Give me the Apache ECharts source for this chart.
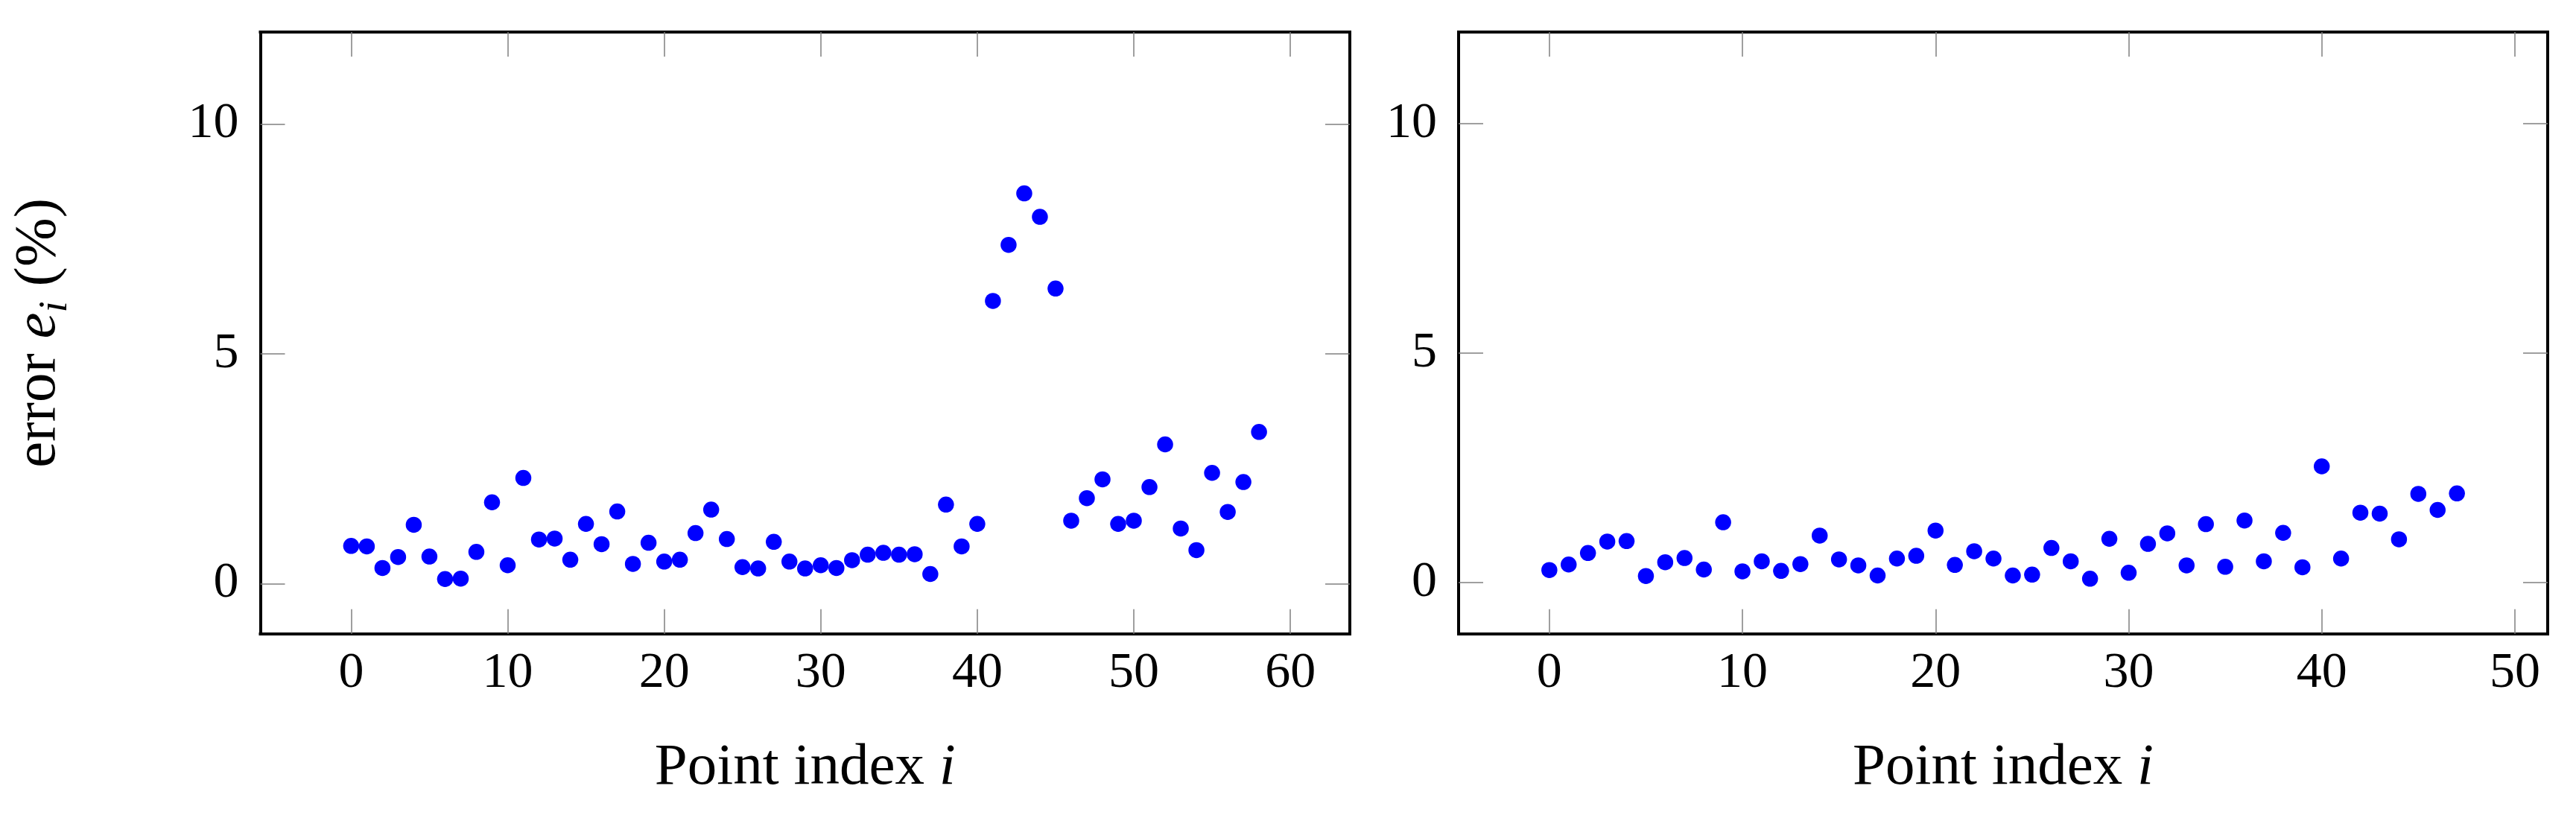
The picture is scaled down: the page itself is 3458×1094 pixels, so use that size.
<!DOCTYPE html>
<html>
<head>
<meta charset="utf-8">
<script src="https://cdn.jsdelivr.net/npm/echarts@6/dist/echarts.min.js"></script>
<style>
html,body{margin:0;padding:0;background:#fff;}
#chart{width:3458px;height:1094px;}
</style>
</head>
<body>
<div id="chart"></div>
<script>
// ---- data ----
const leftErrors = [0.82,0.81,0.34,0.58,1.28,0.59,0.10,0.11,0.69,1.77,
  0.40,2.30,0.96,0.98,0.52,1.30,0.86,1.57,0.43,0.89,
  0.48,0.52,1.10,1.61,0.97,0.36,0.33,0.91,0.48,0.33,
  0.40,0.34,0.51,0.63,0.67,0.63,0.64,0.21,1.72,0.81,
  1.30,6.15,7.37,8.49,7.98,6.42,1.37,1.86,2.27,1.30,
  1.37,2.10,3.03,1.20,0.73,2.41,1.56,2.21,3.30];
const rightErrors = [0.27,0.39,0.64,0.89,0.90,0.14,0.44,0.53,0.28,1.31,
  0.24,0.46,0.25,0.40,1.02,0.50,0.37,0.15,0.52,0.58,
  1.13,0.38,0.68,0.52,0.15,0.17,0.75,0.46,0.08,0.95,
  0.21,0.84,1.07,0.37,1.27,0.34,1.35,0.46,1.08,0.33,
  2.53,0.52,1.52,1.50,0.94,1.93,1.58,1.94];
const xTicksLeft = [0,10,20,30,40,50,60];
const xTicksRight = [0,10,20,30,40,50];
const yTicks = [0,5,10];
const xTitle = 'Point index {it|i}';
const yTitle = 'error {it|e}{sub|i} (%)';

// ---- styles ----
const FONT = 'Liberation Serif';
const frameLine = {show:true, onZero:false, lineStyle:{color:'#000', width:4, cap:'square'}};
function tick(vals){ return {show:true, inside:true, length:33, customValues:vals, lineStyle:{color:'#808080', width:1.5}}; }
const labelStyle = {fontFamily:FONT, fontSize:68, color:'#000'};
const titleStyle = {fontFamily:FONT, fontSize:79, color:'#000',
  rich:{
    it:{fontFamily:FONT, fontSize:79, fontStyle:'italic', color:'#000'},
    sub:{fontFamily:FONT, fontSize:55, fontStyle:'italic', color:'#000', padding:[46,0,0,0]}
  }};

function xAxes(grid, min, max, ticks){
  return [
    {type:'value', gridIndex:grid, position:'bottom', min:min, max:max,
     axisLine:frameLine, axisTick:tick(ticks), splitLine:{show:false},
     axisLabel:Object.assign({show:true, margin:19, customValues:ticks}, labelStyle),
     name: xTitle, nameLocation:'middle', nameGap:141, nameTextStyle:titleStyle},
    {type:'value', gridIndex:grid, position:'top', min:min, max:max,
     axisLine:frameLine, axisTick:tick(ticks), splitLine:{show:false},
     axisLabel:{show:false}}
  ];
}
function yAxes(grid, min, max, withName){
  const a = {type:'value', gridIndex:grid, position:'left', min:min, max:max,
     axisLine:frameLine, axisTick:tick(yTicks), splitLine:{show:false},
     axisLabel:Object.assign({show:true, margin:29, customValues:yTicks}, labelStyle)};
  if (withName){ a.name = yTitle; a.nameLocation='middle'; a.nameGap=247; a.nameTextStyle=titleStyle; }
  return [a,
    {type:'value', gridIndex:grid, position:'right', min:min, max:max,
     axisLine:frameLine, axisTick:tick(yTicks), splitLine:{show:false},
     axisLabel:{show:false}}];
}

const chart = echarts.init(document.getElementById('chart'), null, {renderer:'canvas'});
chart.setOption({
  animation:false,
  backgroundColor:'#fff',
  grid:[
    {left:349.5, right:1646, top:43, bottom:243.3},
    {left:1958, right:38, top:43, bottom:243.3}
  ],
  xAxis: xAxes(0, -5.8, 63.8, xTicksLeft).concat(xAxes(1, -4.7, 51.7, xTicksRight)),
  yAxis: yAxes(0, -1.09, 12, true).concat(yAxes(1, -1.12, 12, false)),
  series:[
    {type:'scatter', xAxisIndex:0, yAxisIndex:0, symbol:'circle', symbolSize:21.5,
     itemStyle:{color:'#0000ff', opacity:1}, data:leftErrors.map((v,i)=>[i,v])},
    {type:'scatter', xAxisIndex:2, yAxisIndex:2, symbol:'circle', symbolSize:21.5,
     itemStyle:{color:'#0000ff', opacity:1}, data:rightErrors.map((v,i)=>[i,v])}
  ]
});
</script>
</body>
</html>
